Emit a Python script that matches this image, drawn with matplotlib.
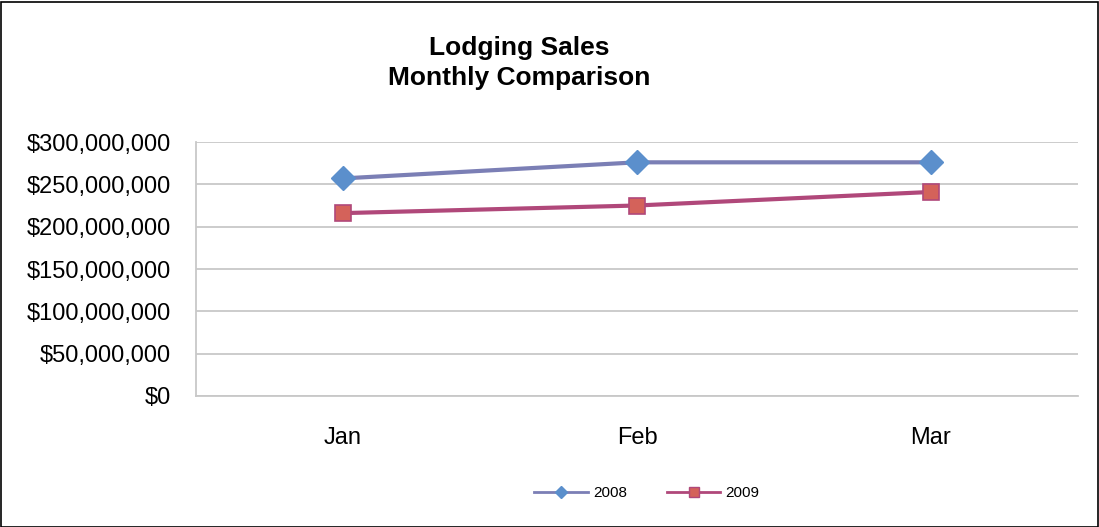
import matplotlib.pyplot as plt
from matplotlib.lines import Line2D
from matplotlib.patches import Rectangle
from matplotlib.ticker import FuncFormatter

plt.rcParams["font.family"] = ["Liberation Sans", "DejaVu Sans"]

months = ["Jan", "Feb", "Mar"]
sales_2008 = [257_000_000, 276_000_000, 276_000_000]
sales_2009 = [216_000_000, 225_000_000, 241_000_000]
y_ticks = [0, 50_000_000, 100_000_000, 150_000_000, 200_000_000, 250_000_000, 300_000_000]

W, H = 1099, 527
fig = plt.figure(figsize=(W / 100, H / 100), dpi=100)
ax = fig.add_axes([196 / W, 1 - 396 / H, (1078 - 196) / W, (396 - 142) / H])

style_2008 = dict(color="#7b7fb5", marker="D", mfc="#5b8fcc", mec="#5b8fcc")
style_2009 = dict(color="#b0487a", marker="s", mfc="#d4625a", mec="#b0487a")

x = range(len(months))
ax.plot(x, sales_2008, lw=3, ms=12, zorder=3, **style_2008)
ax.plot(x, sales_2009, lw=3, ms=12, mew=1.2, zorder=3, **style_2009)

ax.set_xlim(-0.5, 2.5)
ax.set_ylim(0, 300_000_000)
ax.set_yticks(y_ticks)
ax.yaxis.set_major_formatter(FuncFormatter(lambda v, p: f"${v:,.0f}"))
ax.set_xticks(list(x))
ax.set_xticklabels(months)
ax.tick_params(axis="both", length=0, labelsize=17, colors="black")
ax.tick_params(axis="x", pad=22)
ax.tick_params(axis="y", pad=18)
ax.grid(axis="y", color="#c8c8c8", lw=1.3)
ax.set_axisbelow(True)
for side in ["top", "right"]:
    ax.spines[side].set_visible(False)
for side in ["left", "bottom"]:
    ax.spines[side].set_color("#c8c8c8")
    ax.spines[side].set_linewidth(1.3)

fig.text(519 / W, 1 - 63 / H, "Lodging Sales\nMonthly Comparison", ha="center",
         va="center", fontsize=19, fontweight="bold", linespacing=1.3)

# legend uses thinner lines and small markers, like the original
handles = [Line2D([], [], lw=2, ms=6, **style_2008),
           Line2D([], [], lw=2, ms=7, mew=1, **style_2009)]
fig.legend(handles=handles, labels=["2008", "2009"], loc="center",
           bbox_to_anchor=(647 / W, 1 - 493 / H), ncol=2, frameon=False,
           fontsize=11, handlelength=3.5, columnspacing=2.6,
           handletextpad=0.35)

fig.patches.append(Rectangle((0.5 / W, 0.5 / H), 1 - 2 / W, 1 - 2 / H,
                             transform=fig.transFigure, fill=False,
                             edgecolor="black", lw=1.2))

fig.savefig("out.png", dpi=100)
